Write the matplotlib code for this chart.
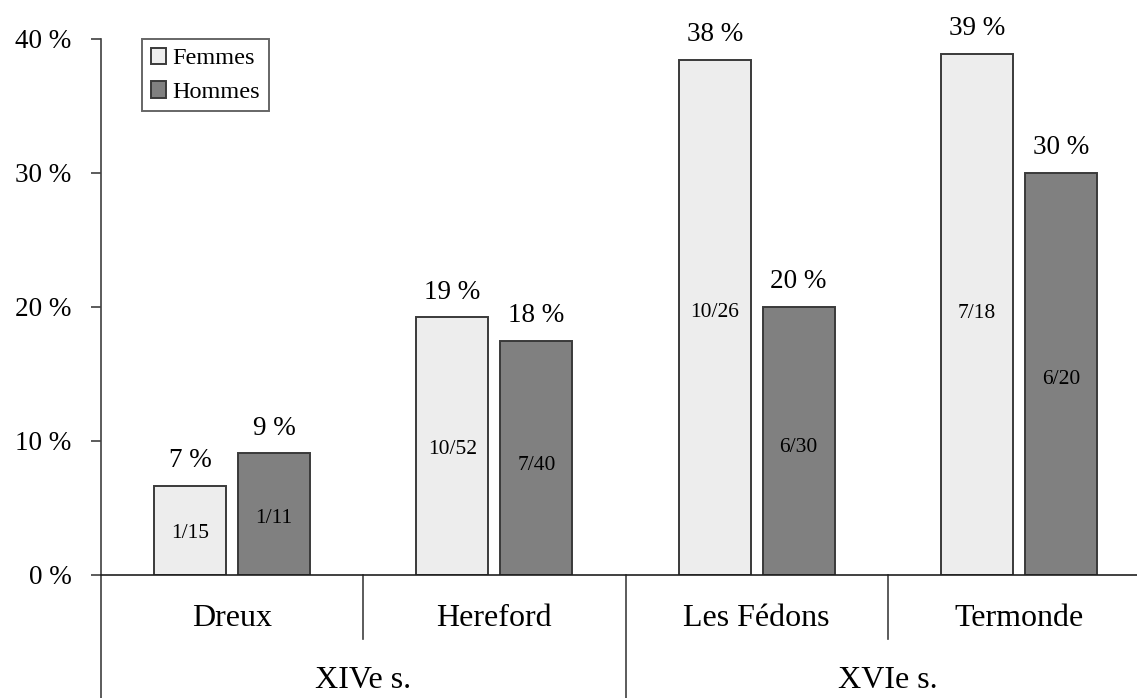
import matplotlib.pyplot as plt
import numpy as np

plt.rcParams['font.family'] = ['Liberation Serif', 'DejaVu Serif']

villes = ['Dreux', 'Hereford', 'Les Fédons', 'Termonde']
siecles = ['XIVe s.', 'XVIe s.']
femmes = [100 / 15, 100 * 10 / 52, 100 * 10 / 26, 100 * 7 / 18]
hommes = [100 / 11, 100 * 7 / 40, 100 * 6 / 30, 100 * 6 / 20]
femmes_lab = ['7 %', '19 %', '38 %', '39 %']
hommes_lab = ['9 %', '18 %', '20 %', '30 %']
femmes_frac = ['1/15', '10/52', '10/26', '7/18']
hommes_frac = ['1/11', '7/40', '6/30', '6/20']
# hauteur des fractions dans les barres (en %)
femmes_frac_y = [3.1, 9.4, 19.6, 19.5]
hommes_frac_y = [4.2, 8.2, 9.55, 14.6]

W, H = 1137, 698
fig = plt.figure(figsize=(W / 100, H / 100), dpi=100)
# axe : x de 101 px a 1150 px, y de 575 px (0 %) a 39 px (40 %)
ax = fig.add_axes([101 / W, (H - 575) / H, (1150 - 101) / W, (575 - 39) / H])

ind = np.arange(len(villes))
width = 0.275
off = 0.16
edge = '#3a3a3a'
b1 = ax.bar(ind - off, femmes, width, color='#ededed', edgecolor=edge, linewidth=1.4, label='Femmes')
b2 = ax.bar(ind + off, hommes, width, color='#808080', edgecolor=edge, linewidth=1.4, label='Hommes')

for i in range(len(villes)):
    ax.annotate(femmes_lab[i], (ind[i] - off, femmes[i]), xytext=(0, 18), textcoords='offset points',
                ha='center', va='center', fontsize=19.5)
    ax.annotate(hommes_lab[i], (ind[i] + off, hommes[i]), xytext=(0, 18), textcoords='offset points',
                ha='center', va='center', fontsize=19.5)
    ax.text(ind[i] - off, femmes_frac_y[i], femmes_frac[i], ha='center', va='center', fontsize=15.5)
    ax.text(ind[i] + off, hommes_frac_y[i], hommes_frac[i], ha='center', va='center', fontsize=15.5)

ax.set_xlim(-0.5, 3.5)
ax.set_ylim(0, 40)
ax.set_yticks([0, 10, 20, 30, 40])
ax.set_yticklabels(['0 %', '10 %', '20 %', '30 %', '40 %'])
ax.tick_params(axis='y', direction='out', length=7.2, width=1.2, color='#404040', labelsize=19.5, pad=14)
ax.set_xticks([])
for s in ['top', 'right']:
    ax.spines[s].set_visible(False)
ax.spines['left'].set_color('#404040')
ax.spines['bottom'].set_color('#202020')
ax.spines['left'].set_linewidth(1.2)
ax.spines['bottom'].set_linewidth(1.2)

# lignes de separation sous l'axe
ppu = 536 / 40.0
y_bas = -(H - 575) / ppu
y_court = -(639 - 575) / ppu
ax.plot([-0.5, -0.5], [0, y_bas], color='#404040', lw=1.2, clip_on=False)
for x in [0.5, 2.5]:
    ax.plot([x, x], [0, y_court], color='#404040', lw=1.2, clip_on=False)
ax.plot([1.5, 1.5], [0, y_bas], color='#404040', lw=1.2, clip_on=False)

for i in range(len(villes)):
    ax.text(ind[i], -(618 - 575) / ppu, villes[i], ha='center', va='center', fontsize=23, clip_on=False)
for j in range(len(siecles)):
    ax.text(0.5 + 2 * j, -(680 - 575) / ppu, siecles[j], ha='center', va='center', fontsize=23, clip_on=False)

leg = ax.legend(loc='upper left', bbox_to_anchor=(142 / W, 1 - 39 / H), bbox_transform=fig.transFigure,
                fontsize=17.5, frameon=True, fancybox=False, handlelength=0.65, handleheight=0.65,
                handletextpad=0.25, labelspacing=0.5, borderpad=0.35, borderaxespad=0)
leg.get_frame().set_edgecolor('#404040')
leg.get_frame().set_linewidth(1.4)

fig.savefig('out.png', dpi=100)
